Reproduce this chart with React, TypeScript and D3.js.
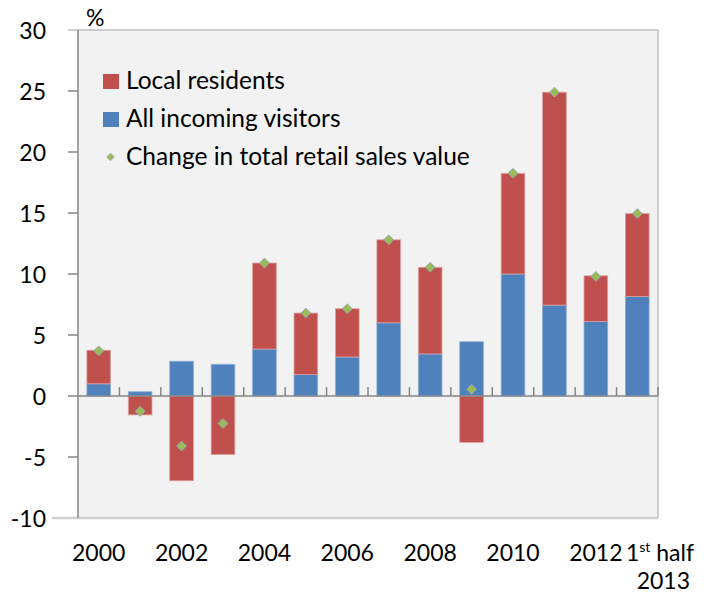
import React from 'react';
import * as d3 from 'd3';

// categories and series
const years = ['2000', '2001', '2002', '2003', '2004', '2005', '2006', '2007', '2008', '2009', '2010', '2011', '2012', '2013H1'];
const tickLabels = ['2000', '', '2002', '', '2004', '', '2006', '', '2008', '', '2010', '', '2012', '1st half|2013'];
const visitors = [1.0, 0.35, 2.85, 2.6, 3.85, 1.75, 3.2, 6.0, 3.45, 4.45, 10.0, 7.45, 6.1, 8.15];
const residents = [2.75, -1.55, -6.95, -4.8, 7.05, 5.05, 3.95, 6.8, 7.1, -3.8, 8.25, 17.45, 3.75, 6.8];
const retailChange = [3.7, -1.25, -4.1, -2.25, 10.9, 6.8, 7.15, 12.8, 10.55, 0.55, 18.25, 24.9, 9.8, 14.95];
const yTicks = [-10, -5, 0, 5, 10, 15, 20, 25, 30];

const RED = '#C0504D';
const BLUE = '#4F81BD';
const GREEN = '#9BBB59';
const FONT = 'Lato, "Open Sans", sans-serif';

const App = () => {
  const left = 78, right = 658, top = 30, bottom = 518;

  const x = d3.scaleBand().domain(years).range([left, right]).paddingInner(0.4286).paddingOuter(0.2143);
  const band = (right - left) / years.length;
  const y = d3.scaleLinear().domain([-10, 30]).range([bottom, top]);

  const rows = years.map((yr, i) => ({ year: yr, visitors: visitors[i], residents: residents[i] }));
  const series = d3.stack<any>()
    .keys(['visitors', 'residents'])
    .offset(d3.stackOffsetDiverging)(rows);
  const colors: Record<string, string> = { visitors: BLUE, residents: RED };
  const strokes: Record<string, string> = { visitors: '#8FAFD6', residents: '#DDA09E' };

  const diamond = (cx: number, cy: number, r: number) =>
    `M${cx},${cy - r}L${cx + r},${cy}L${cx},${cy + r}L${cx - r},${cy}Z`;

  return (
    <svg width={704} height={596} style={{ position: 'absolute', left: 0, top: 0, background: '#fff' }} fontFamily={FONT}>
      {/* plot background */}
      <rect x={left} y={top} width={right - left} height={bottom - top} fill="#F2F2F2" />
      <line x1={68} x2={right} y1={top} y2={top} stroke="#BFBFBF" strokeWidth={1.5} />
      <line x1={right} x2={right} y1={top} y2={bottom} stroke="#BFBFBF" strokeWidth={1.5} />
      <line x1={52} x2={right} y1={bottom} y2={bottom} stroke="#D0D0D0" strokeWidth={2.5} />

      {/* y axis */}
      <line x1={left} x2={left} y1={top} y2={bottom} stroke="#868686" strokeWidth={1.5} />
      {yTicks.map(t => (
        <g key={t}>
          {t > -10 && t < 30 && <line x1={68} x2={left} y1={y(t)} y2={y(t)} stroke="#868686" strokeWidth={1.5} />}
          <text x={46} y={y(t)} textAnchor="end" dominantBaseline="central" fontSize={23} fill="#000">{t}</text>
        </g>
      ))}
      <text x={86} y={26} fontSize={23}>%</text>

      {/* bars */}
      {series.map(s => (
        <g key={s.key}>
          {s.map((d, i) => (
            <rect key={i} x={x(years[i])!} width={x.bandwidth()}
              y={y(Math.max(d[0], d[1]))} height={Math.abs(y(d[0]) - y(d[1]))}
              fill={colors[s.key]} stroke={strokes[s.key]} strokeWidth={0.8} />
          ))}
        </g>
      ))}

      {/* zero line and category ticks */}
      <line x1={left} x2={right} y1={y(0)} y2={y(0)} stroke="#868686" strokeWidth={1.5} />
      {years.map((yr, i) => (
        <line key={yr} x1={left + band * (i + 1)} x2={left + band * (i + 1)} y1={y(0) - 9} y2={y(0)}
          stroke="#868686" strokeWidth={1.5} />
      ))}

      {/* retail sales markers */}
      {retailChange.map((v, i) => (
        <path key={i} d={diamond(x(years[i])! + x.bandwidth() / 2, y(v), 5)} fill={GREEN} stroke="#8EA5C9" strokeWidth={0.8} />
      ))}

      {/* x labels */}
      {tickLabels.map((lab, i) => {
        if (!lab) return null;
        const cx = x(years[i])! + x.bandwidth() / 2;
        if (lab.includes('|')) {
          const [l1, l2] = lab.split('|');
          return (
            <g key={i} fontSize={23}>
              <text x={694} y={561} textAnchor="end">
                {l1.slice(0, 1)}<tspan fontSize={14} dy={-9}>{l1.slice(1, 3)}</tspan><tspan dy={9}>{l1.slice(3)}</tspan>
              </text>
              <text x={690} y={589} textAnchor="end">{l2}</text>
            </g>
          );
        }
        return <text key={i} x={cx} y={561} textAnchor="middle" fontSize={23}>{lab}</text>;
      })}

      {/* legend */}
      <g fontSize={24.5}>
        <rect x={103} y={74} width={16} height={15} fill={RED} />
        <text x={126} y={89}>Local residents</text>
        <rect x={103} y={112} width={16} height={15} fill={BLUE} />
        <text x={126} y={127}>All incoming visitors</text>
        <path d={diamond(110.5, 157, 3.8)} fill={GREEN} stroke="#8EA5C9" strokeWidth={0.8} />
        <text x={126} y={165}>Change in total retail sales value</text>
      </g>
    </svg>
  );
};

export default App;
